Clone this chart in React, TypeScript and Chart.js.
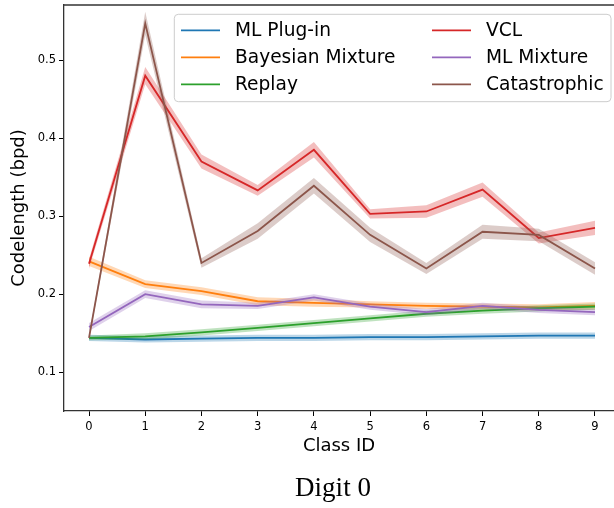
import React, { useEffect, useRef } from "react";
import { Chart, registerables } from "chart.js";

Chart.register(...registerables);

// ---------- data ----------
const classIds = [0, 1, 2, 3, 4, 5, 6, 7, 8, 9];
const seriesLabels = ["ML Plug-in", "Bayesian Mixture", "Replay", "VCL", "ML Mixture", "Catastrophic"];
const seriesColors = ["#1f77b4", "#ff7f0e", "#2ca02c", "#d62728", "#9467bd", "#8c564b"];
const bandColors = [
  "rgba(31,119,180,0.3)",
  "rgba(255,127,14,0.3)",
  "rgba(44,160,44,0.3)",
  "rgba(214,39,40,0.3)",
  "rgba(148,103,189,0.3)",
  "rgba(140,86,75,0.3)",
];

const mlPlugin = [0.144, 0.142, 0.143, 0.144, 0.144, 0.145, 0.145, 0.146, 0.147, 0.147];
const bayesianMixture = [0.242, 0.213, 0.204, 0.191, 0.189, 0.187, 0.185, 0.184, 0.183, 0.185];
const replay = [0.144, 0.146, 0.151, 0.157, 0.163, 0.169, 0.175, 0.179, 0.182, 0.184];
const vcl = [0.239, 0.48, 0.37, 0.333, 0.385, 0.303, 0.306, 0.334, 0.272, 0.285];
const mlMixture = [0.158, 0.2, 0.187, 0.185, 0.196, 0.184, 0.177, 0.185, 0.18, 0.177];
const catastrophic = [0.144, 0.547, 0.24, 0.281, 0.339, 0.276, 0.233, 0.28, 0.276, 0.233];

const mlPluginErr = [0.004, 0.004, 0.004, 0.004, 0.004, 0.004, 0.004, 0.004, 0.004, 0.004];
const bayesianMixtureErr = [0.006, 0.005, 0.005, 0.005, 0.005, 0.004, 0.004, 0.004, 0.004, 0.005];
const replayErr = [0.003, 0.004, 0.004, 0.004, 0.004, 0.004, 0.004, 0.004, 0.004, 0.004];
const vclErr = [0.006, 0.011, 0.009, 0.007, 0.01, 0.006, 0.008, 0.009, 0.007, 0.009];
const mlMixtureErr = [0.005, 0.005, 0.005, 0.004, 0.004, 0.004, 0.004, 0.004, 0.004, 0.004];
const catastrophicErr = [0.003, 0.015, 0.006, 0.01, 0.01, 0.009, 0.007, 0.009, 0.008, 0.008];

const seriesMeans = [mlPlugin, bayesianMixture, replay, vcl, mlMixture, catastrophic];
const seriesErrs = [mlPluginErr, bayesianMixtureErr, replayErr, vclErr, mlMixtureErr, catastrophicErr];

const xTicks = [0, 1, 2, 3, 4, 5, 6, 7, 8, 9];
const yTicks = [0.1, 0.2, 0.3, 0.4, 0.5];
const xLabel = "Class ID";
const yLabel = "Codelength (bpd)";
const figureCaption = "Digit 0";

const FONT = "'DejaVu Sans', sans-serif";

function buildDatasets() {
  const ds: any[] = [];
  seriesMeans.forEach((means, i) => {
    const errs = seriesErrs[i];
    const base = 60 - 10 * i;
    ds.push({
      label: "",
      data: classIds.map((x, k) => ({ x, y: means[k] - errs[k] })),
      borderColor: "transparent",
      borderWidth: 0,
      pointRadius: 0,
      fill: false,
      order: base,
      tension: 0,
    });
    ds.push({
      label: "",
      data: classIds.map((x, k) => ({ x, y: means[k] + errs[k] })),
      borderColor: "transparent",
      borderWidth: 0,
      pointRadius: 0,
      backgroundColor: bandColors[i],
      fill: "-1",
      order: base,
      tension: 0,
    });
    ds.push({
      label: seriesLabels[i],
      data: classIds.map((x, k) => ({ x, y: means[k] })),
      borderColor: seriesColors[i],
      borderWidth: 1.8,
      pointRadius: 0,
      fill: false,
      order: base - 1,
      tension: 0,
    });
  });
  return ds;
}

const framePlugin = {
  id: "frameTop",
  afterDraw(chart: any) {
    const { ctx, chartArea } = chart;
    ctx.save();
    ctx.strokeStyle = "#333";
    ctx.lineWidth = 1.3;
    ctx.beginPath();
    ctx.moveTo(chartArea.left, chartArea.top);
    ctx.lineTo(chartArea.right, chartArea.top);
    ctx.stroke();
    ctx.restore();
  },
};

const legendPlugin = {
  id: "mplLegend",
  afterDraw(chart: any) {
    const { ctx, chartArea } = chart;
    const right = 611;
    const top = chartArea.top + 9.3;
    const left = 174.3;
    const height = 87.4;
    ctx.save();
    ctx.beginPath();
    const r = 4;
    const w = right - left;
    ctx.moveTo(left + r, top);
    ctx.lineTo(left + w - r, top);
    ctx.quadraticCurveTo(left + w, top, left + w, top + r);
    ctx.lineTo(left + w, top + height - r);
    ctx.quadraticCurveTo(left + w, top + height, left + w - r, top + height);
    ctx.lineTo(left + r, top + height);
    ctx.quadraticCurveTo(left, top + height, left, top + height - r);
    ctx.lineTo(left, top + r);
    ctx.quadraticCurveTo(left, top, left + r, top);
    ctx.closePath();
    ctx.fillStyle = "rgba(255,255,255,0.8)";
    ctx.fill();
    ctx.strokeStyle = "#cccccc";
    ctx.lineWidth = 1;
    ctx.stroke();

    ctx.font = `18.6px ${FONT}`;
    ctx.textBaseline = "middle";
    ctx.textAlign = "left";
    const cols = [
      { hx: 181, tx: 235 },
      { hx: 432, tx: 486 },
    ];
    seriesLabels.forEach((label, i) => {
      const col = cols[Math.floor(i / 3)];
      const row = i % 3;
      const cy = top + 16 + row * 27;
      ctx.strokeStyle = seriesColors[i];
      ctx.lineWidth = 1.8;
      ctx.beginPath();
      ctx.moveTo(col.hx, cy);
      ctx.lineTo(col.hx + 39, cy);
      ctx.stroke();
      ctx.fillStyle = "#000";
      ctx.fillText(label, col.tx, cy + 1);
    });
    ctx.restore();
  },
};

const captionPlugin = {
  id: "caption",
  afterDraw(chart: any) {
    const { ctx } = chart;
    ctx.save();
    ctx.font = `27px 'Liberation Serif', 'DejaVu Serif', serif`;
    ctx.fillStyle = "#000";
    ctx.textAlign = "center";
    ctx.textBaseline = "alphabetic";
    ctx.fillText(figureCaption, 333, 496);
    ctx.restore();
  },
};

export default function App() {
  const ref = useRef<HTMLCanvasElement | null>(null);
  useEffect(() => {
    if (!ref.current) return;
    Chart.defaults.font.family = FONT;
    const chart = new Chart(ref.current, {
      type: "line",
      data: { datasets: buildDatasets() },
      plugins: [framePlugin, legendPlugin, captionPlugin],
      options: {
        animation: false,
        responsive: false,
        devicePixelRatio: 1,
        layout: { padding: { top: 5, left: 0, right: 0, bottom: 0 } },
        plugins: {
          legend: { display: false },
          tooltip: { enabled: false },
          title: { display: false },
        },
        scales: {
          x: {
            type: "linear",
            min: -0.445,
            max: 9.338,
            afterBuildTicks: (s: any) => {
              s.ticks = xTicks.map((v) => ({ value: v }));
            },
            afterFit: (s: any) => {
              s.height = 97;
              s.paddingLeft = 0;
              s.paddingRight = 0;
            },
            ticks: {
              autoSkip: false,
              maxRotation: 0,
              padding: 4,
              color: "#000",
              font: { size: 11.5, family: FONT },
              callback: (v: any) => String(v),
            },
            grid: {
              display: true,
              drawOnChartArea: false,
              drawTicks: true,
              tickLength: 5,
              tickColor: "#000",
              tickWidth: 1,
            },
            border: { display: true, color: "#333", width: 1.3 },
            title: {
              display: true,
              text: xLabel,
              color: "#000",
              font: { size: 18, family: FONT },
              padding: { top: 0, bottom: 51 },
            },
          },
          y: {
            type: "linear",
            min: 0.0504,
            max: 0.5705,
            afterBuildTicks: (s: any) => {
              s.ticks = yTicks.map((v) => ({ value: v }));
            },
            afterFit: (s: any) => {
              s.width = 64;
              s.paddingTop = 0;
              s.paddingBottom = 0;
            },
            ticks: {
              padding: 3,
              color: "#000",
              font: { size: 11.5, family: FONT },
              callback: (v: any) => Number(v).toFixed(1),
            },
            grid: {
              display: true,
              drawOnChartArea: false,
              drawTicks: true,
              tickLength: 5,
              tickColor: "#000",
              tickWidth: 1,
            },
            border: { display: true, color: "#333", width: 1.3 },
            title: {
              display: true,
              text: yLabel,
              color: "#000",
              font: { size: 18, family: FONT },
              padding: { top: 9, bottom: 0 },
            },
          },
        },
      },
    });
    return () => chart.destroy();
  }, []);

  return (
    <div style={{ position: "absolute", left: 0, top: 0, width: 614, height: 508, background: "#fff" }}>
      <canvas ref={ref} width={614} height={508} style={{ width: 614, height: 508, display: "block" }} />
    </div>
  );
}
